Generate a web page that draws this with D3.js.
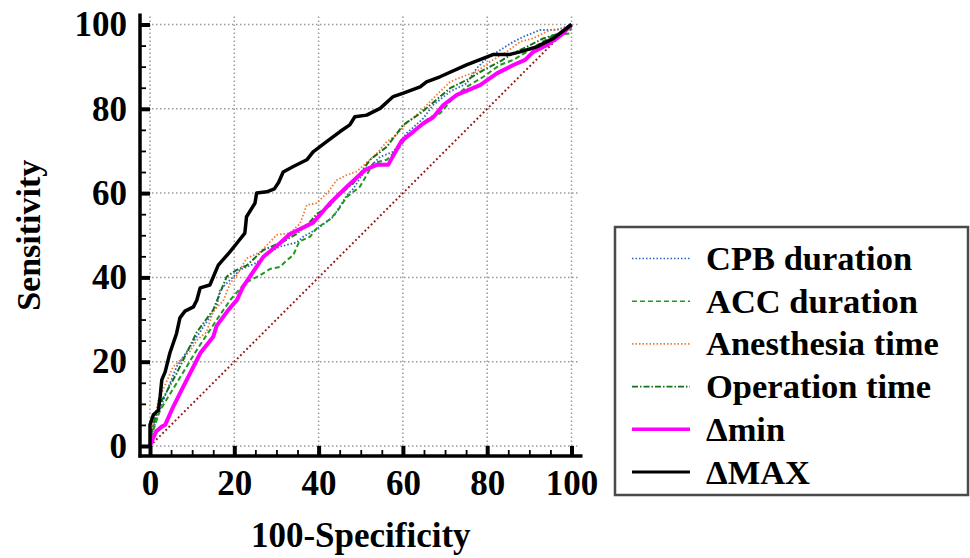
<!DOCTYPE html>
<html><head><meta charset="utf-8">
<script src="https://cdn.jsdelivr.net/npm/d3@7"></script>
<style>
html,body{margin:0;padding:0;background:#fff;}
svg{display:block;}
text{font-family:"Liberation Serif","Times New Roman",serif;font-weight:bold;fill:#000;}
</style></head>
<body>
<svg id="chart" width="970" height="558"></svg>
<script>
// ---- data (100-Specificity, Sensitivity) ----
const seriesNames = ["CPB duration","ACC duration","Anesthesia time","Operation time","\u0394min","\u0394MAX"];
const cpbX = [0,0.5,2,4,6.3,11.1,15.8,16.6,19,21.4,25.3,27.7,30.8,34.8,36.4,39.5,43.5,46.7,48.2,50.6,54.6,57.7,60.9,64.8,67.2,71.2,75.1,77.5,79.9,83,86.2,88.6,92.5,96.5,98.9,100];
const cpbY = [0,3,7.7,13,18.8,25.9,33,37,39.4,41.8,43.5,45.5,47.3,48.3,49.7,51.4,54.4,59.5,61,64.7,68.6,69.8,74.2,77.7,80.9,84.1,86,89.6,92,93.9,95.9,97.1,98.7,98.7,99.5,100];
const accX = [0,0.5,2.4,6.3,11.1,15.8,19,22.5,26.1,28.5,30.8,32.4,34,35.4,38,39.5,42.7,44.3,46.7,49.8,53,56.2,59.3,60.9,64.1,66.4,68.8,71.9,75.1,79.1,83,86.2,89.4,92.5,95.7,99.6,100];
const accY = [0,3,8.5,14.9,22.8,29.9,34.6,38.6,40.5,42,42.5,44,45.3,48.5,49.7,51.6,53.8,55.5,59.1,61.5,67.1,67.9,71,73.4,76,78,78.9,82.5,85.2,87.6,90.4,91.6,93.5,95.5,97.5,97.9,100];
const anesX = [0,0.5,2,5.5,9.5,11.1,13.4,15,17.4,19,20.6,22.9,26.1,30.1,33.2,35.6,37.2,39.5,42.3,44.3,46.7,49,53.8,56.2,58.5,60.9,64.1,67.2,71.2,75.1,77.5,80.7,84.6,87.8,90.9,94.9,98,100];
const anesY = [0,4,10.9,18.8,22.5,25.1,27,32,34.5,38.6,40.5,44.5,46,50.1,50.5,52.8,57.2,57.6,60.3,63.1,64.3,65.1,69.4,72.2,73.8,76.6,79.3,82.5,86.4,88,88.8,91.2,93.5,95.9,96.7,98.7,99.1,100];
const opX = [0,0.5,2,6.3,11.1,15,18.2,20.6,22.9,26.9,31.6,34.8,38,39.5,42.7,44.3,48.2,52.2,56.2,60.1,64.1,67.2,71.2,75.1,79.1,83,86.2,89.4,93.3,97.3,100];
const opY = [0,4,9.3,17.2,27,32.3,40.2,41.8,42.8,46.5,48.5,50.3,53.2,55,57,59.1,62.3,67.9,71,76.2,78.9,81.5,84.9,86.8,89.2,91.2,93.2,94.7,96.7,97.9,100];
const minX = [0,0.8,1.5,2.8,3.6,5.5,7.9,10.3,11.9,15,15.8,18.6,20.6,22.1,26.9,30.8,33.2,38.7,42.7,46.7,51,53.8,56.5,59.7,62.5,64.8,67.2,69.6,72.8,78.3,82.3,86.2,89,90.9,94.1,96.5,98,100];
const minY = [0,2,3.5,4.6,5,9.3,14.1,18.8,22,25.9,28.5,32.3,34.6,37.8,44.9,48.1,50.3,53,57.6,61.5,65.5,66.7,66.7,72.4,74.6,76.5,78,80.9,83.3,85.6,88.4,90.4,91.6,93.5,95.1,96.7,97.9,100];
const maxX = [0,0,0.8,2,2.4,2.8,3.6,4.7,6.3,7.1,8.3,10.3,11.1,11.9,14.2,16.2,19,20.6,22.5,22.9,24.9,25.3,27.7,29.5,30.5,31.6,34,37.2,38.7,41.9,45.1,47.4,48.6,51.4,54.6,57.7,60.1,64.1,65.6,68.8,75.1,81.5,85.4,87.8,91.7,95.7,100];
const maxY = [0,5,7.4,8.5,11.7,15.7,17.6,22,26.7,30.4,32,33,34.6,37.5,38.2,42.9,46.1,48.1,50.5,54.4,57.6,60,60.3,61,62.5,65,66.3,67.9,69.8,72.2,74.6,76.2,78.1,78.5,80.1,82.9,83.7,85.2,86.4,87.6,90.4,92.9,92.9,93.5,94.7,96.7,100];
const diagX = [0,100];
const diagY = [0,100];
const majorTicks = [0,20,40,60,80,100];
const minorTicks = [5,10,15,25,30,35,45,50,55,65,70,75,85,90,95];

// ---- styles ----
const styles = [
  {color:"#2b63c6", width:1.8, dash:"1.5,2"},
  {color:"#1e9a1e", width:2.0, dash:"5,3"},
  {color:"#f07a32", width:1.8, dash:"1.5,2"},
  {color:"#17701a", width:2.0, dash:"6,2,1.5,2"},
  {color:"#ff00ff", width:4.0, dash:null},
  {color:"#000000", width:3.5, dash:null}
];
const seriesData = [[cpbX,cpbY],[accX,accY],[anesX,anesY],[opX,opY],[minX,minY],[maxX,maxY]];

const svg = d3.select("#chart");
const x = d3.scaleLinear().domain([0,100]).range([150,571.5]);
const y = d3.scaleLinear().domain([0,100]).range([446,24.5]);
const axX = 140, axY = 456;

// grid
const grid = svg.append("g");
grid.selectAll(".gv").data(majorTicks).join("line")
  .attr("x1",d=>x(d)).attr("x2",d=>x(d)).attr("y1",y(100)-8).attr("y2",axY)
  .attr("stroke","#9a9a9a").attr("stroke-width",1.5).attr("stroke-dasharray","1.5,2.5");
grid.selectAll(".gh").data(majorTicks).join("line")
  .attr("y1",d=>y(d)).attr("y2",d=>y(d)).attr("x1",axX).attr("x2",x(100)+8)
  .attr("stroke","#9a9a9a").attr("stroke-width",1.5).attr("stroke-dasharray","1.5,2.5");

// diagonal
const line = d3.line().x(d=>x(d[0])).y(d=>y(d[1]));
svg.append("path").datum(diagX.map((v,i)=>[v,diagY[i]]))
  .attr("d",line).attr("fill","none").attr("stroke","#8b1c1c")
  .attr("stroke-width",2).attr("stroke-dasharray","1.8,2.6");

// curves
seriesData.forEach((s,i)=>{
  const st = styles[i];
  svg.append("path").datum(s[0].map((v,j)=>[v,s[1][j]]))
    .attr("d",line).attr("fill","none").attr("stroke",st.color)
    .attr("stroke-width",st.width).attr("stroke-linejoin","round")
    .attr("stroke-dasharray",st.dash);
});

// axes
const yAxis = d3.axisLeft(y).tickValues(majorTicks).tickSizeInner(-10).tickSizeOuter(0).tickPadding(13);
const gy = svg.append("g").attr("transform",`translate(${axX},0)`).call(yAxis);
gy.select(".domain").remove();
gy.selectAll(".tick line").attr("stroke","#000").attr("stroke-width",4);
gy.selectAll(".tick text").style("font-family","'Liberation Serif',serif").style("font-weight","bold").style("font-size","35px").attr("fill","#000");
const yMinor = d3.axisLeft(y).tickValues(minorTicks).tickSizeInner(-6).tickSizeOuter(0).tickFormat("");
const gym = svg.append("g").attr("transform",`translate(${axX},0)`).call(yMinor);
gym.select(".domain").remove();
gym.selectAll(".tick line").attr("stroke","#000").attr("stroke-width",1.8);

const xAxis = d3.axisBottom(x).tickValues(majorTicks).tickSizeInner(-10).tickSizeOuter(0).tickPadding(14);
const gx = svg.append("g").attr("transform",`translate(0,${axY})`).call(xAxis);
gx.select(".domain").remove();
gx.selectAll(".tick line").attr("stroke","#000").attr("stroke-width",4);
gx.selectAll(".tick text").style("font-family","'Liberation Serif',serif").style("font-weight","bold").style("font-size","35px").attr("fill","#000");
const xMinor = d3.axisBottom(x).tickValues(minorTicks).tickSizeInner(-6).tickSizeOuter(0).tickFormat("");
const gxm = svg.append("g").attr("transform",`translate(0,${axY})`).call(xMinor);
gxm.select(".domain").remove();
gxm.selectAll(".tick line").attr("stroke","#000").attr("stroke-width",1.8);

// axis lines
svg.append("line").attr("x1",axX).attr("x2",axX).attr("y1",y(100)-11).attr("y2",axY+1.5)
  .attr("stroke","#000").attr("stroke-width",3.5);
svg.append("line").attr("x1",axX-1.5).attr("x2",x(100)+11).attr("y1",axY).attr("y2",axY)
  .attr("stroke","#000").attr("stroke-width",3.5);

// axis titles
svg.append("text").attr("x",(x(0)+x(100))/2).attr("y",547).attr("text-anchor","middle")
  .style("font-size","35px").text("100-Specificity");
svg.append("text").attr("transform",`translate(40,${(y(0)+y(100))/2}) rotate(-90)`)
  .attr("text-anchor","middle").style("font-size","34px").text("Sensitivity");

// legend
const lg = svg.append("g");
lg.append("rect").attr("x",615).attr("y",227).attr("width",353).attr("height",268)
  .attr("fill","#fff").attr("stroke","#4a4a4a").attr("stroke-width",2.5);
seriesNames.forEach((name,i)=>{
  const cy = 258.5 + i*42.7;
  const st = styles[i];
  lg.append("line").attr("x1",632).attr("x2",690).attr("y1",cy).attr("y2",cy)
    .attr("stroke",st.color).attr("stroke-width",i>=4?st.width-0.5:1.6).attr("stroke-dasharray",st.dash);
  lg.append("text").attr("x",706).attr("y",cy+11.5).style("font-size","34.5px").text(name);
});
</script>
</body></html>
